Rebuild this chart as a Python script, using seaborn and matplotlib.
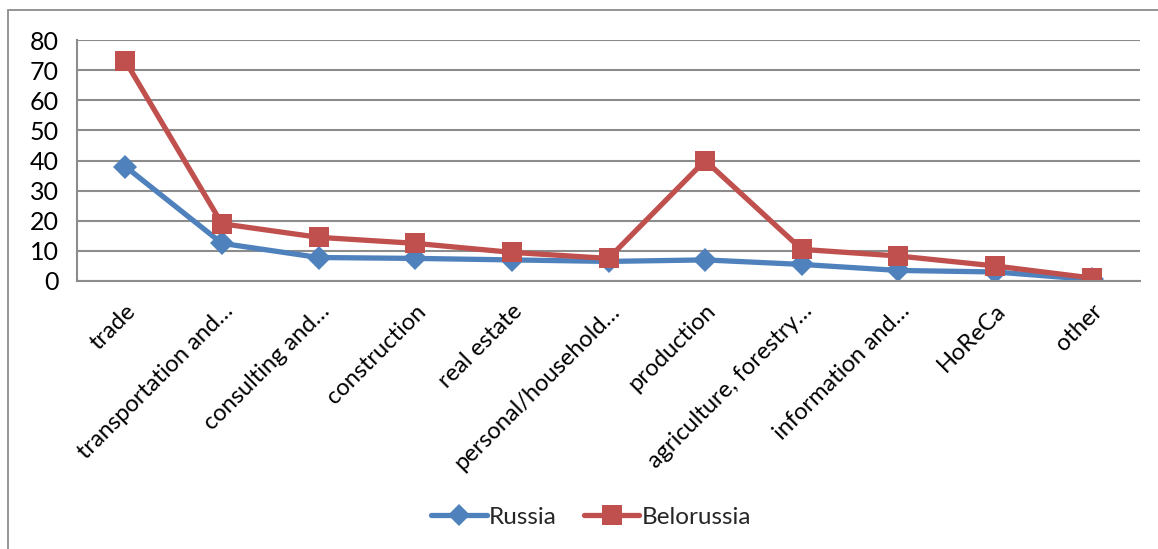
import numpy as np
import pandas as pd
import matplotlib
matplotlib.use("Agg")
import matplotlib.pyplot as plt
import seaborn as sns
from matplotlib.patches import Rectangle
from matplotlib.lines import Line2D

categories = ["trade", "transportation and…", "consulting and…", "construction",
              "real estate", "personal/household…", "production",
              "agriculture, forestry…", "information and…", "HoReCa", "other"]
russia = [38, 12.5, 7.8, 7.5, 7.0, 6.5, 7.0, 5.5, 3.5, 3.0, 0.5]
belorussia = [73, 19, 14.5, 12.5, 9.5, 7.5, 40, 10.5, 8.3, 5.0, 1.0]
series_names = ["Russia", "Belorussia"]
y_ticks = [0, 10, 20, 30, 40, 50, 60, 70, 80]

sns.set_theme(style="white")
plt.rcParams["font.family"] = ["Lato", "DejaVu Sans"]

df = pd.DataFrame({
    "category": categories * 2,
    "pos": list(range(len(categories))) * 2,
    "value": russia + belorussia,
    "series": [series_names[0]] * len(categories) + [series_names[1]] * len(categories),
})

fig = plt.figure(figsize=(11.58, 5.49), dpi=100)
ax = fig.add_axes([77 / 1158, 1 - 281 / 549, (1140 - 77) / 1158, (281 - 40) / 549])

palette = {"Russia": "#4F81BD", "Belorussia": "#C0504D"}
markers = {"Russia": "D", "Belorussia": "s"}

sns.lineplot(data=df, x="pos", y="value", hue="series", style="series",
             palette=palette, markers=markers, dashes=False, sort=False,
             linewidth=3.8, markersize=13, markeredgewidth=0, ax=ax, legend=False)

# square marker slightly larger than diamond
for line, ms in zip(ax.get_lines(), [12, 15]):
    line.set_markersize(ms)

ax.set_xlim(-0.5, len(categories) - 0.5)
ax.set_ylim(0, 80)
ax.set_yticks(y_ticks)
ax.set_yticklabels([str(t) for t in y_ticks], fontsize=18, color="black")
ax.yaxis.grid(True, color="#8c8c8c", linewidth=1.5)
ax.set_axisbelow(True)

ax.set_xticks(np.arange(len(categories)))
ax.set_xticklabels(categories, rotation=45, ha="right", rotation_mode="anchor",
                   fontsize=17, color="black")
ax.tick_params(axis="x", which="major", length=0, pad=14)
ax.set_xticks(np.arange(-0.5, len(categories)), minor=True)
ax.tick_params(axis="x", which="minor", length=7, width=1.5, color="#8c8c8c", direction="out")
ax.tick_params(axis="y", length=7, width=1.5, color="#8c8c8c", direction="out", pad=6)

for s in ["top", "right"]:
    ax.spines[s].set_visible(False)
for s in ["left", "bottom"]:
    ax.spines[s].set_color("#8c8c8c")
    ax.spines[s].set_linewidth(1.5)

ax.set_xlabel("")
ax.set_ylabel("")

# legend
handles = [Line2D([], [], color=palette[n], marker=markers[n], linewidth=3.8,
                  markersize=(11 if n == "Russia" else 14), markeredgewidth=0)
           for n in series_names]
fig.legend(handles, series_names, loc="center", bbox_to_anchor=(591 / 1158, 1 - 517 / 549),
           ncol=2, frameon=False, fontsize=17.5, handlelength=2.3, columnspacing=1.1,
           handletextpad=0.1)

# outer chart frame
fig.patches.append(Rectangle((8 / 1158, -0.1), 1.2, 1 - 10 / 549 + 0.1,
                             transform=fig.transFigure, fill=False,
                             edgecolor="#8c8c8c", linewidth=1.3))

fig.savefig("out.png", dpi=100)
